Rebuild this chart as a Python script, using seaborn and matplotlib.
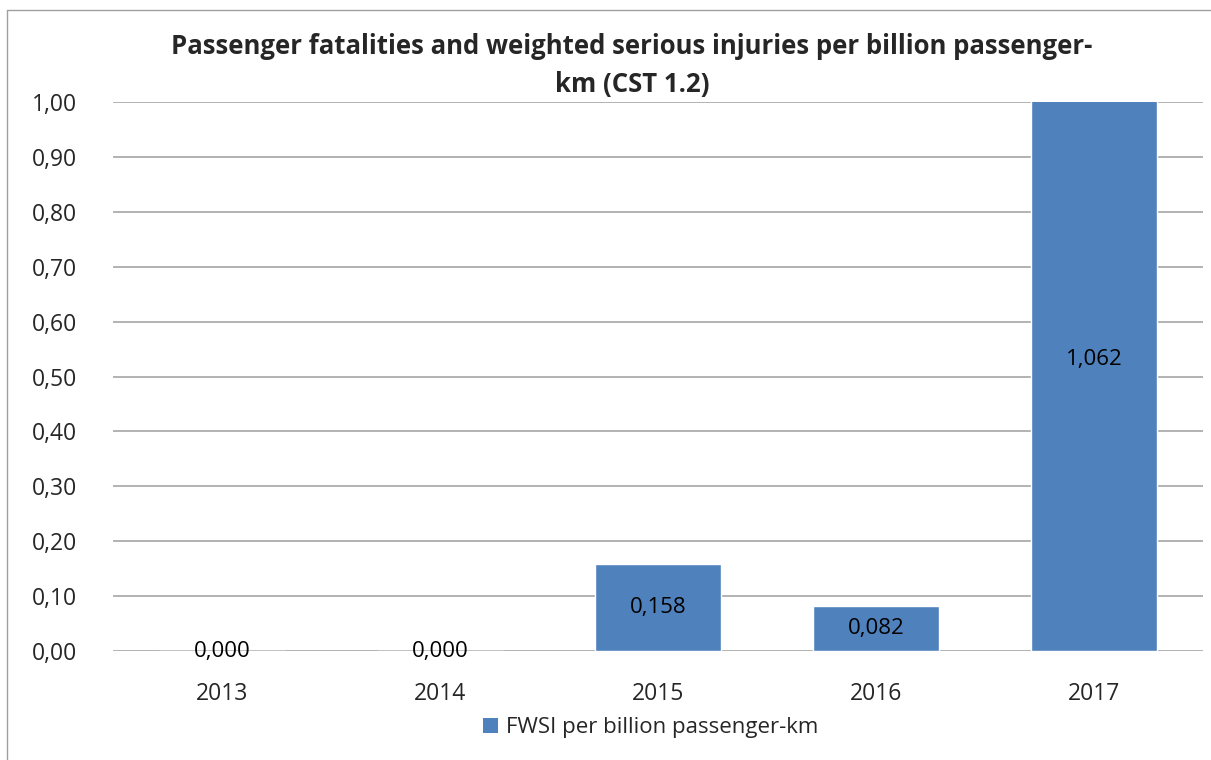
import matplotlib
matplotlib.use("Agg")
import matplotlib.pyplot as plt
import seaborn as sns
import pandas as pd
from matplotlib.lines import Line2D
from matplotlib.patches import Patch

years = ["2013", "2014", "2015", "2016", "2017"]
fwsi = [0.000, 0.000, 0.158, 0.082, 1.062]
series_name = "FWSI per billion passenger-km"
title = "Passenger fatalities and weighted serious injuries per billion passenger-\nkm (CST 1.2)"
yticks = [0.0, 0.1, 0.2, 0.3, 0.4, 0.5, 0.6, 0.7, 0.8, 0.9, 1.0]

sns.set_style("white")
plt.rcParams['font.family'] = ['Open Sans', 'DejaVu Sans']

df = pd.DataFrame({"year": years, "value": fwsi})

fig = plt.figure(figsize=(12.11, 7.6), dpi=100)
ax = fig.add_axes([113/1211, 109/760, 1090/1211, 549/760])
bar_color = "#4F81BD"
sns.barplot(data=df, x="year", y="value", color=bar_color, width=0.58,
            saturation=1, ax=ax)

ax.set_ylim(0, 1.0)
ax.set_yticks(yticks)
ax.set_yticklabels([f"{t:.2f}".replace(".", ",") for t in yticks], fontsize=16.5)
ax.tick_params(axis='x', labelsize=16.5, length=0, pad=22)
ax.tick_params(axis='y', length=0, pad=26)
ax.set_xlabel("")
ax.set_ylabel("")
for s in ax.spines.values():
    s.set_visible(False)
ax.yaxis.grid(True, color="#A6A6A6", linewidth=1.2)
ax.set_axisbelow(True)
ax.set_xlim(-0.5, 4.5)

for i, v in enumerate(fwsi):
    ax.text(i, v / 2, f"{v:.3f}".replace(".", ","), ha="center", va="center",
            fontsize=16, color="black")

fig.text(0.522, 0.914, title, ha="center", va="center", fontsize=18.5,
         fontweight="bold", linespacing=1.55)

handle = Patch(facecolor=bar_color, edgecolor="none")
fig.legend([handle], [series_name], loc="center", bbox_to_anchor=(651/1211, 1 - 728/760),
           frameon=False, fontsize=16, handlelength=0.65, handleheight=0.65,
           handletextpad=0.4)

# outer chart border
fig.add_artist(Line2D([7/1211, 7/1211], [0, 1 - 10/760], transform=fig.transFigure,
                      color="#A0A0A0", linewidth=1))
fig.add_artist(Line2D([7/1211, 1], [1 - 10/760, 1 - 10/760], transform=fig.transFigure,
                      color="#A0A0A0", linewidth=1))

fig.savefig("out.png", dpi=100, facecolor="white")
